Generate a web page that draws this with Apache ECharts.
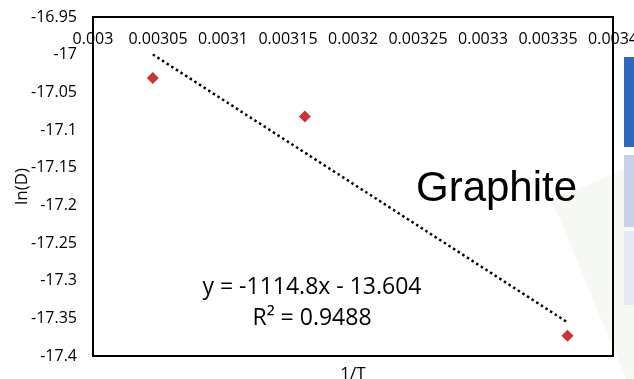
<!DOCTYPE html>
<html>
<head>
<meta charset="utf-8">
<script src="https://cdn.jsdelivr.net/npm/echarts@6/dist/echarts.min.js"></script>
<style>
  html, body { margin: 0; padding: 0; background: #fff; }
  #main { width: 634px; height: 379px; }
</style>
</head>
<body>
<div id="main"></div>
<script>
// ticks of both axes
const xTicks = [0.003, 0.00305, 0.0031, 0.00315, 0.0032, 0.00325, 0.0033, 0.00335, 0.0034];
const yTicks = [-17.4, -17.35, -17.3, -17.25, -17.2, -17.15, -17.1, -17.05, -17, -16.95];

// measured points: 1/T vs ln(D)
const invT = [0.003046, 0.003163, 0.003365];
const lnD = [-17.031, -17.082, -17.373];

// linear trendline from excel
const fitSlope = -1114.8;
const fitIntercept = -13.604;
const fitLabel = ['y = -1114.8x - 13.604', 'R² = 0.9488'];
const sampleName = 'Graphite';

const font = '"Open Sans", sans-serif';

let points = invT.map((x, i) => [x, lnD[i]]);
let xLo = Math.min(...invT), xHi = Math.max(...invT);
let trend = [xLo, xHi].map(x => [x, fitSlope * x + fitIntercept]);

let myChart = echarts.init(document.getElementById('main'), null, {renderer: 'canvas'});

let option = {
    backgroundColor: '#fff',
    animation: false,
    grid: {
        left: 93, right: 21, top: 17, bottom: 23,
        outerBoundsMode: 'none',
        containLabel: false,
        show: true,
        borderColor: '#000',
        borderWidth: 2,
        backgroundColor: 'transparent'
    },
    xAxis: [
        {
            type: 'value',
            position: 'top',
            min: xTicks[0],
            max: xTicks[xTicks.length - 1],
            interval: xTicks[1] - xTicks[0],
            axisLine: {show: false},
            axisTick: {show: false},
            splitLine: {show: false},
            axisLabel: {
                inside: true,
                margin: 14,
                fontFamily: font,
                fontSize: 16,
                color: '#000',
                formatter: v => String(+v.toFixed(5))
            }
        },
        {
            type: 'value',
            position: 'bottom',
            min: xTicks[0],
            max: xTicks[xTicks.length - 1],
            name: '1/T',
            nameLocation: 'middle',
            nameGap: 10,
            nameMoveOverlap: false,
            nameTextStyle: {fontFamily: font, fontSize: 17, color: '#000'},
            axisLine: {show: false},
            axisTick: {show: false},
            axisLabel: {show: false},
            splitLine: {show: false}
        }
    ],
    yAxis: {
        type: 'value',
        min: yTicks[0],
        max: yTicks[yTicks.length - 1],
        interval: 0.05,
        name: 'ln(D)',
        nameLocation: 'middle',
        nameGap: 62,
        nameMoveOverlap: false,
        nameTextStyle: {fontFamily: font, fontSize: 17, color: '#000'},
        axisLine: {show: false},
        axisTick: {show: false},
        splitLine: {show: false},
        axisLabel: {
            margin: 16,
            fontFamily: font,
            fontSize: 16,
            color: '#000',
            formatter: v => String(+v.toFixed(2))
        }
    },
    graphic: [
        // slide background bits on the right
        {type: 'polygon', silent: true, z: -10,
            shape: {points: [[552, 200], [634, 165], [634, 379], [626, 379]]},
            style: {fill: '#f5f8f3'}},
        {type: 'rect', silent: true, z: -5, shape: {x: 624, y: 57, width: 10, height: 90}, style: {fill: '#2f69be'}},
        {type: 'rect', silent: true, z: -5, shape: {x: 624, y: 155, width: 10, height: 72}, style: {fill: '#c8cfe6'}},
        {type: 'rect', silent: true, z: -5, shape: {x: 624, y: 231, width: 10, height: 74}, style: {fill: '#e6e9f4'}},
        {type: 'text', left: 416, top: 168, z: 10,
            style: {text: sampleName, font: '42px "Liberation Sans", Arial, sans-serif', fill: '#000'}},
        {type: 'text', x: 312, y: 287, z: 10,
            style: {text: fitLabel[0], font: '23px ' + font, fill: '#000', align: 'center', verticalAlign: 'middle'}},
        {type: 'text', x: 312, y: 318, z: 10,
            style: {text: fitLabel[1], font: '23px ' + font, fill: '#000', align: 'center', verticalAlign: 'middle'}}
    ],
    series: [
        {
            name: 'trend',
            type: 'line',
            data: trend,
            symbol: 'none',
            lineStyle: {color: '#000', width: 2.5, type: [2.5, 3]},
            z: 2
        },
        {
            name: 'ln(D)',
            type: 'scatter',
            data: points,
            symbol: 'diamond',
            symbolSize: 12,
            itemStyle: {color: '#c00000'},
            z: 3
        }
    ]
};

myChart.setOption(option);
</script>
</body>
</html>
